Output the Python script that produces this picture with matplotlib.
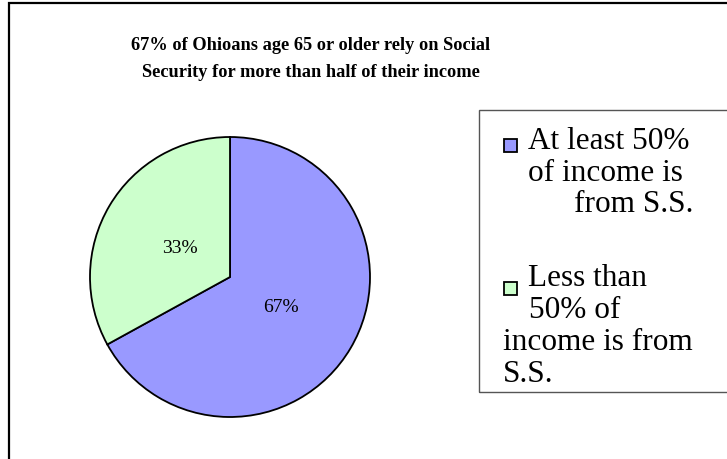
import matplotlib.pyplot as plt
from matplotlib.patches import Rectangle

plt.rcParams['font.family'] = ['Liberation Serif', 'DejaVu Serif']

title = "67% of Ohioans age 65 or older rely on Social\nSecurity for more than half of their income"
categories = ["At least 50% of income is from S.S.", "Less than 50% of income is from S.S."]
shares = [67, 33]
colors = ['#9999FF', '#CCFFCC']

W, H = 727, 460
fig = plt.figure(figsize=(W / 100, H / 100), dpi=100)


def fx(px):
    return px / W


def fy(py):
    return 1 - py / H


# outer chart frame (only left and top edges are visible in the crop)
fig.add_artist(Rectangle((fx(9), fy(470)), fx(740), 466 / H, transform=fig.transFigure,
                         fill=False, edgecolor='black', linewidth=1.6, clip_on=False))

fig.text(fx(311), fy(59), title, ha='center', va='center', fontsize=13.2,
         fontweight='bold', linespacing=1.7)

# pie
cx, cy, r = 230, 278, 140
ax = fig.add_axes([fx(cx - r), fy(cy + r), fx(2 * r), 2 * r / H])
ax.pie(shares, colors=colors, startangle=90, counterclock=False,
       autopct='%1.0f%%', pctdistance=0.42,
       wedgeprops=dict(edgecolor='black', linewidth=1.3),
       textprops=dict(fontsize=14))
ax.set_xlim(-1, 1)
ax.set_ylim(-1, 1)
ax.set_aspect('auto')

# legend box
fig.add_artist(Rectangle((fx(479), fy(393)), fx(300), (393 - 111) / H, transform=fig.transFigure,
                         fill=False, edgecolor='#555555', linewidth=1.0, clip_on=False))

leg_fs = 22.5
legend_lines = [
    [("At least 50%", 528, 'left'), ("of income is", 528, 'left'), ("from S.S.", 693, 'right')],
    [("Less than", 528, 'left'), ("50% of", 529, 'left'), ("income is from", 503, 'left'), ("S.S.", 503, 'left')],
]
legend_y = [[149, 181, 212], [286, 318, 350, 382]]
marker_y = [140, 283]
for i, lines in enumerate(legend_lines):
    fig.add_artist(Rectangle((fx(504), fy(marker_y[i] + 13)), fx(13), 13 / H, transform=fig.transFigure,
                             facecolor=colors[i], edgecolor='black', linewidth=1.3))
    for (txt, x, ha), y in zip(lines, legend_y[i]):
        fig.text(fx(x), fy(y), txt, ha=ha, va='baseline', fontsize=leg_fs)

fig.savefig('out.png', dpi=100)
